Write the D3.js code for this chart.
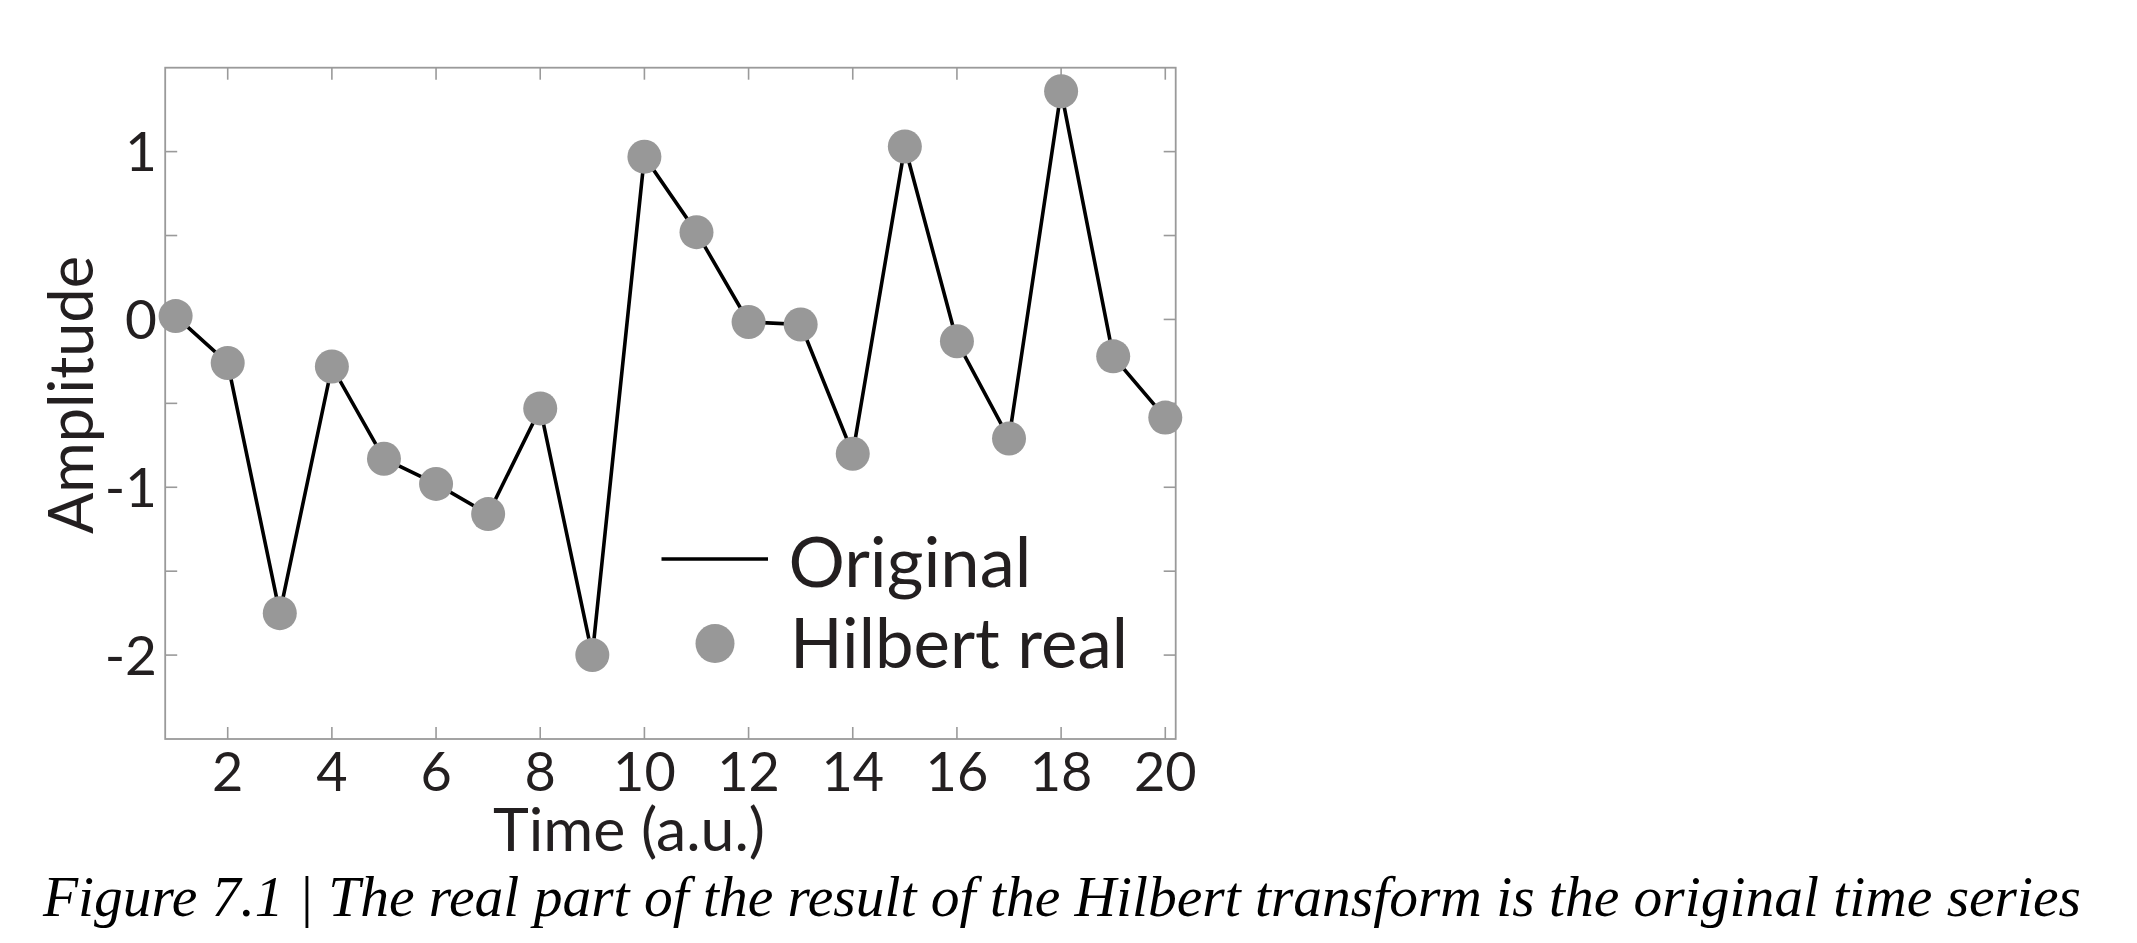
<!DOCTYPE html>
<html>
<head>
<meta charset="utf-8">
<script src="https://cdn.jsdelivr.net/npm/d3@7"></script>
<style>
  body { margin: 0; background: #fff; }
  text { fill: #231f20; }
</style>
</head>
<body>
<div id="chart"></div>
<script>
// data
var timePoints = [1, 2, 3, 4, 5, 6, 7, 8, 9, 10, 11, 12, 13, 14, 15, 16, 17, 18, 19, 20];
var original = [0.02, -0.26, -1.75, -0.28, -0.83, -0.98, -1.16, -0.53, -2.0, 0.97,
                0.52, -0.015, -0.03, -0.80, 1.03, -0.13, -0.71, 1.36, -0.22, -0.585];
var hilbertReal = [0.02, -0.26, -1.75, -0.28, -0.83, -0.98, -1.16, -0.53, -2.0, 0.97,
                   0.52, -0.015, -0.03, -0.80, 1.03, -0.13, -0.71, 1.36, -0.22, -0.585];
var xTicks = [2, 4, 6, 8, 10, 12, 14, 16, 18, 20];
var yTicks = [-2, -1.5, -1, -0.5, 0, 0.5, 1];
var yTickLabels = { "-2": "-2", "-1": "-1", "0": "0", "1": "1" };
var legendLabels = ["Original", "Hilbert real"];
var caption = "Figure 7.1 | The real part of the result of the Hilbert transform is the original time series";

var svgWidth = 2137;
var svgHeight = 943;

var plot = { left: 165.2, right: 1175.7, top: 67.7, bottom: 739 };

var svg = d3.select("#chart")
    .append("svg")
    .attr("width", svgWidth)
    .attr("height", svgHeight);

var x = d3.scaleLinear().domain([0.8, 20.2]).range([plot.left, plot.right]);
var y = d3.scaleLinear().domain([-2.5, 1.5]).range([plot.bottom, plot.top]);

var axisColor = "#9a9a9a";
var tickLen = 12;
var font = "Lato, 'Open Sans', sans-serif";

// shrink / grow a text so it spans a given width
function fitWidth(sel, w) {
    var node = sel.node();
    var fs = parseFloat(sel.attr("font-size"));
    var len = node.getComputedTextLength();
    sel.attr("font-size", fs * w / len);
}

// box
svg.append("rect")
    .attr("x", plot.left)
    .attr("y", plot.top)
    .attr("width", plot.right - plot.left)
    .attr("height", plot.bottom - plot.top)
    .attr("fill", "none")
    .attr("stroke", axisColor)
    .attr("stroke-width", 1.8);

// ticks, pointing inward on all four sides
var ticks = svg.append("g").attr("stroke", axisColor).attr("stroke-width", 1.6);
xTicks.forEach(function(t) {
    ticks.append("line").attr("x1", x(t)).attr("x2", x(t))
        .attr("y1", plot.bottom).attr("y2", plot.bottom - tickLen);
    ticks.append("line").attr("x1", x(t)).attr("x2", x(t))
        .attr("y1", plot.top).attr("y2", plot.top + tickLen);
});
yTicks.forEach(function(t) {
    ticks.append("line").attr("y1", y(t)).attr("y2", y(t))
        .attr("x1", plot.left).attr("x2", plot.left + tickLen);
    ticks.append("line").attr("y1", y(t)).attr("y2", y(t))
        .attr("x1", plot.right).attr("x2", plot.right - tickLen);
});

// tick labels
svg.append("g")
    .selectAll("text")
    .data(xTicks)
    .enter()
    .append("text")
    .attr("x", d => x(d))
    .attr("y", 790.5)
    .attr("text-anchor", "middle")
    .attr("font-family", font)
    .attr("font-size", 54)
    .text(d => d);

svg.append("g")
    .selectAll("text")
    .data(yTicks.filter(d => yTickLabels[String(d)] !== undefined))
    .enter()
    .append("text")
    .attr("x", 157)
    .attr("y", d => y(d) + 19.5)
    .attr("text-anchor", "end")
    .attr("font-family", font)
    .attr("font-size", 55)
    .text(d => yTickLabels[String(d)]);

// axis titles
var xTitle = svg.append("text")
    .attr("x", 629)
    .attr("y", 851)
    .attr("text-anchor", "middle")
    .attr("font-family", font)
    .attr("font-size", 58)
    .text("Time (a.u.)");
fitWidth(xTitle, 272);

var yTitle = svg.append("text")
    .attr("transform", "translate(93, 395) rotate(-90)")
    .attr("text-anchor", "middle")
    .attr("font-family", font)
    .attr("font-size", 58)
    .text("Amplitude");
fitWidth(yTitle, 278);

// line + markers
var line = d3.line()
    .x((d, i) => x(timePoints[i]))
    .y(d => y(d));

svg.append("path")
    .datum(original)
    .attr("d", line)
    .attr("fill", "none")
    .attr("stroke", "#000")
    .attr("stroke-width", 3.6);

svg.append("g")
    .selectAll("circle")
    .data(hilbertReal)
    .enter()
    .append("circle")
    .attr("cx", (d, i) => x(timePoints[i]))
    .attr("cy", d => y(d))
    .attr("r", 17)
    .attr("fill", "#989898");

// legend
var legend = svg.append("g");
legend.append("line")
    .attr("x1", 661.5).attr("x2", 768)
    .attr("y1", 559).attr("y2", 559)
    .attr("stroke", "#000")
    .attr("stroke-width", 3.6);
legend.append("circle")
    .attr("cx", 715).attr("cy", 643.5)
    .attr("r", 19.5)
    .attr("fill", "#989898");
var leg1 = legend.append("text")
    .attr("x", 788.4).attr("y", 586.7)
    .attr("font-family", font)
    .attr("font-size", 66)
    .text(legendLabels[0]);
fitWidth(leg1, 243);
var leg2 = legend.append("text")
    .attr("x", 790).attr("y", 668.3)
    .attr("font-family", font)
    .attr("font-size", 66)
    .text(legendLabels[1]);
fitWidth(leg2, 338);

// caption
var cap = svg.append("text")
    .attr("x", 43)
    .attr("y", 916)
    .attr("font-family", "'Liberation Serif', 'Times New Roman', serif")
    .attr("font-style", "italic")
    .attr("font-size", 56)
    .style("fill", "#000")
    .text(caption);
fitWidth(cap, 2038);
</script>
</body>
</html>
